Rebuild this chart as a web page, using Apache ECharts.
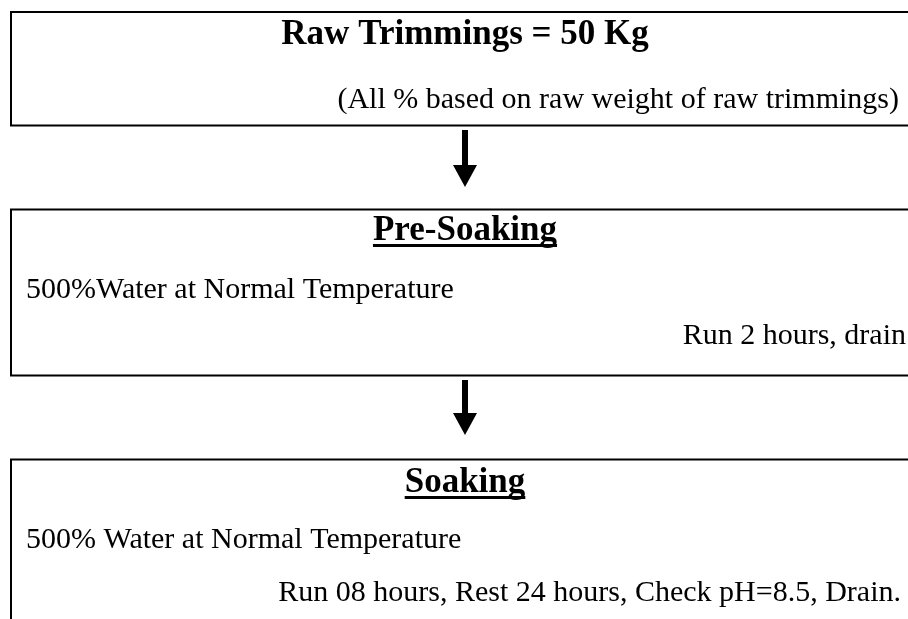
<!DOCTYPE html>
<html>
<head>
<meta charset="utf-8">
<script src="https://cdn.jsdelivr.net/npm/echarts@6/dist/echarts.min.js"></script>
<style>
  html, body { margin: 0; padding: 0; background: #fff; }
  #main { width: 908px; height: 619px; }
</style>
</head>
<body>
<div id="main"></div>
<script>
// flow steps (text content)
const stepTitles = ['Raw Trimmings = 50 Kg', 'Pre-Soaking', 'Soaking'];
const titleUnderlined = [false, true, true];
const leftNotes = ['', '500%Water at Normal Temperature', '500% Water at Normal Temperature'];
const rightNotes = [
  '(All % based on raw weight of raw trimmings)',
  'Run 2 hours, drain',
  'Run 08 hours, Rest 24 hours, Check pH=8.5, Drain.'
];

// layout of each box (pixels)
const boxTop = [12, 209.5, 459.5];
const boxBottom = [125.5, 375.5, 640];
const titleBase = [44, 240, 492];
const leftBase = [0, 298, 548];
const rightBase = [108, 344, 601];
const rightEdge = [899, 906, 901];

const FONT = '"Liberation Serif", "Times New Roman", serif';
const TITLE_SIZE = 35, NOTE_SIZE = 30;
const ASCENT = 0.76; // baseline offset below a 'top' anchored line, em
const boldFont = 'bold ' + TITLE_SIZE + 'px ' + FONT;
const normFont = NOTE_SIZE + 'px ' + FONT;

const ctx = document.createElement('canvas').getContext('2d');
function textWidth(t, f) {
  ctx.font = f;
  return ctx.measureText(t).width;
}

// text placed by its baseline
function label(text, x, base, font, size, align) {
  return {
    type: 'text',
    x: x, y: base - ASCENT * size,
    style: { text: text, font: font, fill: '#000', align: align, verticalAlign: 'top' }
  };
}

const cx = 465;
let graphics = [];

stepTitles.forEach(function (title, i) {
  // box (right side runs off the page)
  graphics.push({
    type: 'rect',
    shape: { x: 11, y: boxTop[i], width: 940, height: boxBottom[i] - boxTop[i] },
    style: { fill: 'none', stroke: '#000', lineWidth: 2 }
  });
  graphics.push(label(title, cx, titleBase[i], boldFont, TITLE_SIZE, 'center'));
  if (titleUnderlined[i]) {
    let w = textWidth(title, boldFont);
    graphics.push({
      type: 'rect',
      shape: { x: cx - w / 2, y: titleBase[i] + 4, width: w, height: 3 },
      style: { fill: '#000' }
    });
  }
  if (leftNotes[i]) {
    graphics.push(label(leftNotes[i], 26, leftBase[i], normFont, NOTE_SIZE, 'left'));
  }
  graphics.push(label(rightNotes[i], rightEdge[i], rightBase[i], normFont, NOTE_SIZE, 'right'));
});

// arrows between boxes
const arrowTop = [130, 380];
const arrowTip = [187, 435];
arrowTop.forEach(function (top, i) {
  let headTop = arrowTip[i] - 22;
  graphics.push({
    type: 'rect',
    shape: { x: cx - 3, y: top, width: 6, height: headTop - top + 1 },
    style: { fill: '#000' }
  });
  graphics.push({
    type: 'polygon',
    shape: { points: [[cx - 12, headTop], [cx + 12, headTop], [cx, arrowTip[i]]] },
    style: { fill: '#000' }
  });
});

const chart = echarts.init(document.getElementById('main'));
chart.setOption({
  backgroundColor: '#fff',
  animation: false,
  graphic: graphics
});
</script>
</body>
</html>
